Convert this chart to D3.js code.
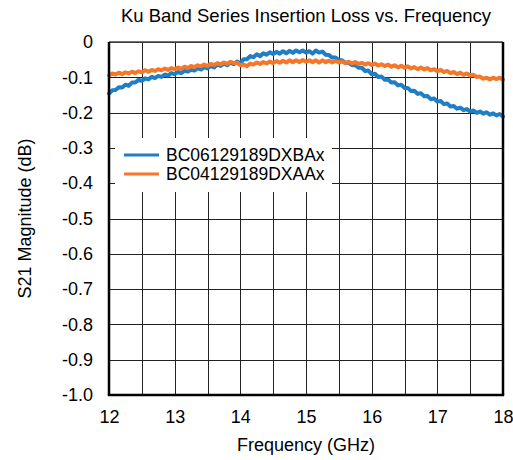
<!DOCTYPE html>
<html>
<head>
<meta charset="utf-8">
<script src="https://cdn.jsdelivr.net/npm/d3@7/dist/d3.min.js"></script>
<style>
  body { margin: 0; background: #fff; }
  text { font-family: "Liberation Sans", Arial, sans-serif; fill: #000; }
</style>
</head>
<body>
<svg id="chart" width="513" height="460"></svg>
<script>
const title = "Ku Band Series Insertion Loss vs. Frequency";
const xLabel = "Frequency (GHz)";
const yLabel = "S21 Magnitude (dB)";
const seriesNames = ["BC06129189DXBAx", "BC04129189DXAAx"];
const seriesColors = ["#1f7ec4", "#f5782a"];
const xTicks = [12, 13, 14, 15, 16, 17, 18];
const xGrid = [12, 12.5, 13, 13.5, 14, 14.5, 15, 15.5, 16, 16.5, 17, 17.5, 18];
const yTicks = [0, -0.1, -0.2, -0.3, -0.4, -0.5, -0.6, -0.7, -0.8, -0.9, -1.0];
const yTickLabels = ["0", "-0.1", "-0.2", "-0.3", "-0.4", "-0.5", "-0.6", "-0.7", "-0.8", "-0.9", "-1.0"];

const freq = [
  12.00,12.05,12.10,12.15,12.20,12.25,12.30,12.35,12.40,12.45,
  12.50,12.55,12.60,12.65,12.70,12.75,12.80,12.85,12.90,12.95,
  13.00,13.05,13.10,13.15,13.20,13.25,13.30,13.35,13.40,13.45,
  13.50,13.55,13.60,13.65,13.70,13.75,13.80,13.85,13.90,13.95,
  14.00,14.05,14.10,14.15,14.20,14.25,14.30,14.35,14.40,14.45,
  14.50,14.55,14.60,14.65,14.70,14.75,14.80,14.85,14.90,14.95,
  15.00,15.05,15.10,15.15,15.20,15.25,15.30,15.35,15.40,15.45,
  15.50,15.55,15.60,15.65,15.70,15.75,15.80,15.85,15.90,15.95,
  16.00,16.05,16.10,16.15,16.20,16.25,16.30,16.35,16.40,16.45,
  16.50,16.55,16.60,16.65,16.70,16.75,16.80,16.85,16.90,16.95,
  17.00,17.05,17.10,17.15,17.20,17.25,17.30,17.35,17.40,17.45,
  17.50,17.55,17.60,17.65,17.70,17.75,17.80,17.85,17.90,17.95,18.00];

const blueS21 = [
  -0.146,-0.137,-0.136,-0.128,-0.129,-0.121,-0.124,-0.115,-0.115,-0.107,
  -0.110,-0.103,-0.106,-0.099,-0.102,-0.096,-0.099,-0.092,-0.095,-0.088,
  -0.091,-0.085,-0.088,-0.081,-0.084,-0.078,-0.081,-0.074,-0.078,-0.071,
  -0.075,-0.068,-0.072,-0.064,-0.068,-0.061,-0.066,-0.058,-0.063,-0.055,
  -0.060,-0.049,-0.049,-0.040,-0.043,-0.035,-0.040,-0.032,-0.036,-0.029,
  -0.034,-0.028,-0.033,-0.026,-0.032,-0.025,-0.031,-0.024,-0.029,-0.024,
  -0.030,-0.026,-0.033,-0.024,-0.030,-0.027,-0.036,-0.037,-0.044,-0.044,
  -0.052,-0.052,-0.059,-0.058,-0.066,-0.065,-0.073,-0.073,-0.082,-0.081,
  -0.091,-0.090,-0.099,-0.098,-0.107,-0.106,-0.115,-0.114,-0.123,-0.121,
  -0.130,-0.130,-0.139,-0.138,-0.147,-0.145,-0.154,-0.153,-0.162,-0.160,
  -0.169,-0.167,-0.176,-0.174,-0.183,-0.181,-0.189,-0.186,-0.193,-0.190,
  -0.197,-0.194,-0.201,-0.197,-0.203,-0.199,-0.206,-0.202,-0.208,-0.204,-0.211];

const orangeS21 = [
  -0.095,-0.089,-0.092,-0.087,-0.091,-0.086,-0.089,-0.084,-0.088,-0.083,
  -0.086,-0.080,-0.084,-0.079,-0.082,-0.077,-0.080,-0.075,-0.079,-0.074,
  -0.077,-0.072,-0.076,-0.070,-0.074,-0.068,-0.071,-0.066,-0.069,-0.064,
  -0.068,-0.062,-0.065,-0.060,-0.063,-0.058,-0.062,-0.056,-0.060,-0.058,
  -0.066,-0.064,-0.069,-0.061,-0.064,-0.058,-0.062,-0.057,-0.061,-0.055,
  -0.060,-0.054,-0.059,-0.053,-0.058,-0.052,-0.057,-0.052,-0.057,-0.051,
  -0.056,-0.052,-0.057,-0.052,-0.058,-0.052,-0.057,-0.053,-0.058,-0.053,
  -0.058,-0.055,-0.060,-0.056,-0.061,-0.057,-0.062,-0.059,-0.064,-0.060,
  -0.065,-0.061,-0.067,-0.063,-0.068,-0.064,-0.070,-0.066,-0.072,-0.067,
  -0.073,-0.069,-0.075,-0.071,-0.077,-0.072,-0.078,-0.074,-0.080,-0.077,
  -0.083,-0.079,-0.085,-0.082,-0.088,-0.085,-0.091,-0.087,-0.093,-0.089,
  -0.095,-0.093,-0.099,-0.098,-0.104,-0.101,-0.106,-0.101,-0.105,-0.101,-0.107];

const svg = d3.select("#chart");
const L = 109, R = 503, T = 42, B = 395;
const x = d3.scaleLinear().domain([12, 18]).range([L, R]);
const y = d3.scaleLinear().domain([-1, 0]).range([B, T]);

// gridlines
const grid = svg.append("g");
grid.selectAll("line.v").data(xGrid).enter().append("line")
  .attr("x1", d => Math.round(x(d)) + 0.5).attr("x2", d => Math.round(x(d)) + 0.5)
  .attr("y1", T).attr("y2", B).attr("stroke", "#222").attr("stroke-width", 1);
grid.selectAll("line.h").data(yTicks).enter().append("line")
  .attr("y1", d => Math.round(y(d)) + 0.5).attr("y2", d => Math.round(y(d)) + 0.5)
  .attr("x1", L).attr("x2", R).attr("stroke", "#222").attr("stroke-width", 1);

// legend background (covers gridlines)
svg.append("rect").attr("x", 115).attr("y", 138).attr("width", 217).attr("height", 54).attr("fill", "#fff");

// series
const line = d3.line().x((d, i) => x(freq[i])).y(d => y(d));
[blueS21, orangeS21].forEach((s, k) => {
  svg.append("path").datum(s).attr("d", line).attr("fill", "none")
    .attr("stroke", seriesColors[k]).attr("stroke-width", 4)
    .attr("stroke-linejoin", "round").attr("stroke-linecap", "round");
});

// frame
svg.append("line").attr("x1", L).attr("x2", R).attr("y1", T).attr("y2", T).attr("stroke", "#444").attr("stroke-width", 1.6);
svg.append("line").attr("x1", L).attr("x2", L).attr("y1", T).attr("y2", B).attr("stroke", "#000").attr("stroke-width", 2.5);
svg.append("line").attr("x1", R).attr("x2", R).attr("y1", T).attr("y2", B).attr("stroke", "#000").attr("stroke-width", 2.5);
svg.append("line").attr("x1", L - 1.2).attr("x2", R + 1.2).attr("y1", B).attr("y2", B).attr("stroke", "#000").attr("stroke-width", 2.5);

// axes labels via d3 axes
const yAxis = d3.axisLeft(y).tickValues(yTicks).tickSize(0).tickPadding(16)
  .tickFormat((d, i) => yTickLabels[i]);
const gy = svg.append("g").attr("transform", `translate(${L},0)`).call(yAxis);
gy.select(".domain").remove();
gy.selectAll("text").attr("font-size", 18).attr("font-family", "Liberation Sans, Arial, sans-serif").attr("fill", "#000");

const xAxis = d3.axisBottom(x).tickValues(xTicks).tickSize(0).tickPadding(15).tickFormat(d3.format("d"));
const gx = svg.append("g").attr("transform", `translate(0,${B})`).call(xAxis);
gx.select(".domain").remove();
gx.selectAll("text").attr("font-size", 18).attr("font-family", "Liberation Sans, Arial, sans-serif").attr("fill", "#000");

// titles
svg.append("text").attr("x", (L + R) / 2).attr("y", 22).attr("text-anchor", "middle")
  .attr("font-size", 18.5).text(title);
svg.append("text").attr("x", (L + R) / 2).attr("y", 451).attr("text-anchor", "middle")
  .attr("font-size", 18).text(xLabel);
svg.append("text").attr("transform", `translate(31,${(T + B) / 2}) rotate(-90)`)
  .attr("text-anchor", "middle").attr("font-size", 18).text(yLabel);

// legend
const leg = svg.append("g");
seriesNames.forEach((n, k) => {
  const yy = 155 + k * 19;
  leg.append("line").attr("x1", 124).attr("x2", 159).attr("y1", yy).attr("y2", yy)
    .attr("stroke", seriesColors[k]).attr("stroke-width", 3);
  leg.append("text").attr("x", 166).attr("y", yy).attr("dy", "0.35em")
    .attr("font-size", 17.5).text(n);
});
</script>
</body>
</html>
